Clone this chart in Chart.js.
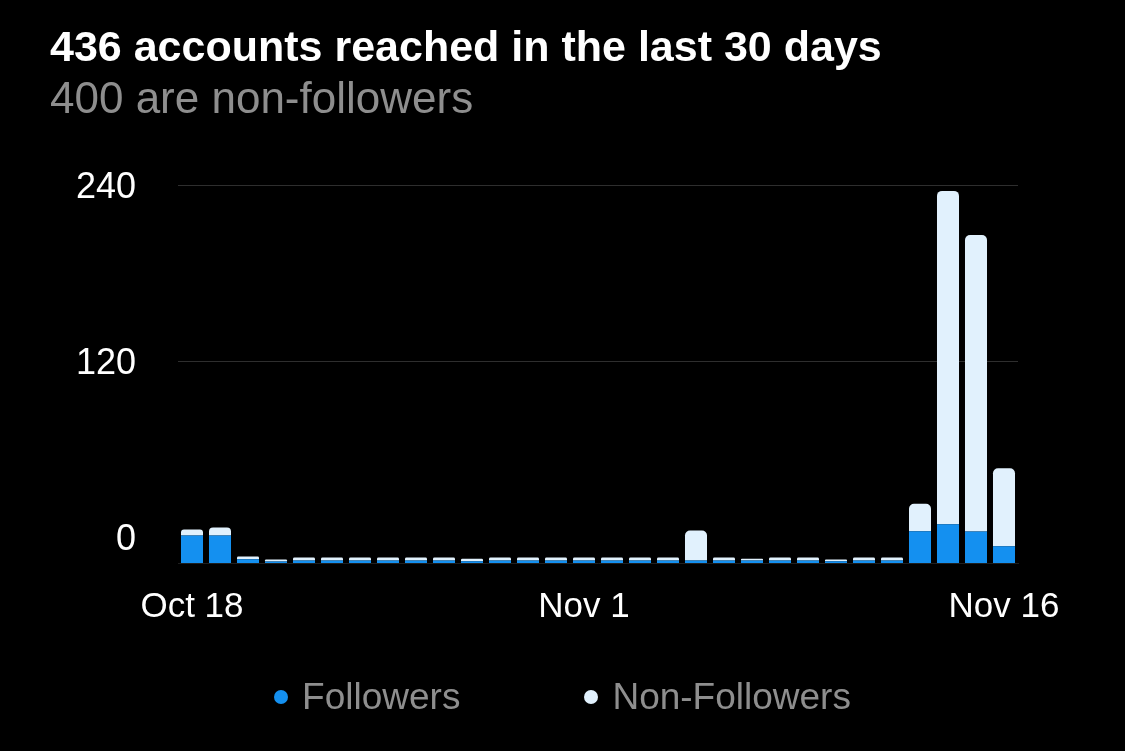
<!DOCTYPE html>
<html>
<head>
<meta charset="utf-8">
<script src="https://cdn.jsdelivr.net/npm/chart.js@4"></script>
<style>
    html, body { margin: 0; background: #000; overflow: hidden; }
    .wrap { position: relative; width: 1125px; height: 751px; }
    .legend {
        position: absolute; left: 0; top: 675px; width: 1125px;
        display: flex; justify-content: center; gap: 124px;
        font: 37px 'Liberation Sans', Arial, sans-serif; line-height: 44px; color: #8e8e8e;
    }
    .legend_item { display: flex; align-items: center; }
    .legend_dot { width: 14px; height: 14px; border-radius: 50%; margin-right: 14px; }
</style>
</head>
<body>
<div class="wrap">
    <canvas id="reach_chart" width="1125" height="751"></canvas>
    <div class="legend"></div>
</div>
<script>
const days = [
    'Oct 18', 'Oct 19', 'Oct 20', 'Oct 21', 'Oct 22', 'Oct 23', 'Oct 24', 'Oct 25', 'Oct 26', 'Oct 27',
    'Oct 28', 'Oct 29', 'Oct 30', 'Oct 31', 'Nov 1', 'Nov 2', 'Nov 3', 'Nov 4', 'Nov 5', 'Nov 6',
    'Nov 7', 'Nov 8', 'Nov 9', 'Nov 10', 'Nov 11', 'Nov 12', 'Nov 13', 'Nov 14', 'Nov 15', 'Nov 16'
];
const shownDays = ['Oct 18', 'Nov 1', 'Nov 16'];
const yTickValues = [0, 120, 240];

const followers = [
    17.5, 17.5, 2.4, 1.0, 1.6, 1.6, 1.6, 1.6, 1.6, 1.6,
    1.1, 1.6, 1.6, 1.6, 1.6, 1.6, 1.6, 1.6, 1.6, 1.6,
    1.6, 1.6, 1.6, 1.1, 1.6, 1.6, 20.2, 24.7, 20.0, 10.7
];
const nonFollowers = [
    3.8, 5.1, 1.7, 1.2, 1.9, 1.9, 1.9, 1.9, 1.9, 1.9,
    1.6, 1.9, 1.9, 1.9, 1.9, 1.9, 1.9, 1.9, 19.1, 1.9,
    1.1, 1.9, 1.9, 1.1, 1.9, 1.9, 17.5, 211.8, 188.5, 49.5
];

Chart.defaults.font.family = "'Liberation Sans', Arial, sans-serif";

function createChart() {
    const ctx = document.getElementById('reach_chart').getContext('2d');
    return new Chart(ctx, {
        type: 'bar',
        data: {
            labels: days,
            datasets: [{
                label: 'Followers',
                data: followers,
                backgroundColor: '#1490f0',
                borderRadius: 0,
                categoryPercentage: 1,
                barPercentage: 0.786,
                yAxisID: 'y'
            }, {
                label: 'Non-Followers',
                data: nonFollowers,
                backgroundColor: '#e1f1fd',
                borderRadius: 5,
                categoryPercentage: 1,
                barPercentage: 0.786,
                yAxisID: 'y'
            }]
        },
        options: {
            responsive: false,
            animation: false,
            devicePixelRatio: 1,
            layout: {
                padding: { left: 50, right: 107, top: 0, bottom: 100 }
            },
            plugins: {
                legend: { display: false },
                tooltip: { enabled: false },
                title: {
                    display: true,
                    text: '436 accounts reached in the last 30 days',
                    align: 'start',
                    color: '#ffffff',
                    font: { size: 43, weight: 'bold' },
                    padding: { top: 23, bottom: 0 }
                },
                subtitle: {
                    display: true,
                    text: '400 are non-followers',
                    align: 'start',
                    color: '#8e8e8e',
                    font: { size: 44 },
                    padding: { top: 0, bottom: 58 }
                }
            },
            scales: {
                x: {
                    stacked: true,
                    grid: { display: false, drawTicks: false },
                    border: { color: '#1f1f1f' },
                    ticks: {
                        color: '#ffffff',
                        font: { size: 35 },
                        padding: 23,
                        autoSkip: false,
                        maxRotation: 0,
                        callback: function (value, index) {
                            const label = days[index];
                            return shownDays.includes(label) ? label : null;
                        }
                    }
                },
                y: {
                    stacked: true,
                    display: false,
                    min: 0,
                    max: 240
                },
                yTicks: {
                    axis: 'y',
                    position: 'left',
                    min: -18,
                    max: 240,
                    afterBuildTicks: scale => {
                        scale.ticks = yTickValues.map(v => ({ value: v }));
                    },
                    afterFit: scale => {
                        scale.width = 128;
                    },
                    grid: {
                        drawTicks: false,
                        color: c => (c.tick && c.tick.value === 0) ? 'rgba(0,0,0,0)' : '#2e2e2e'
                    },
                    border: { display: false },
                    ticks: {
                        color: '#ffffff',
                        font: { size: 36 },
                        padding: 42,
                        labelOffset: 3
                    }
                }
            }
        }
    });
}

function legendHandler(chart) {
    const items = chart.options.plugins.legend.labels.generateLabels(chart);
    document.querySelector('.legend').innerHTML = items.map(item => `
        <div class="legend_item">
            <span class="legend_dot" style="background:${item.fillStyle}"></span>${item.text}
        </div>`).join('');
}

const chart = createChart();
legendHandler(chart);
</script>
</body>
</html>
